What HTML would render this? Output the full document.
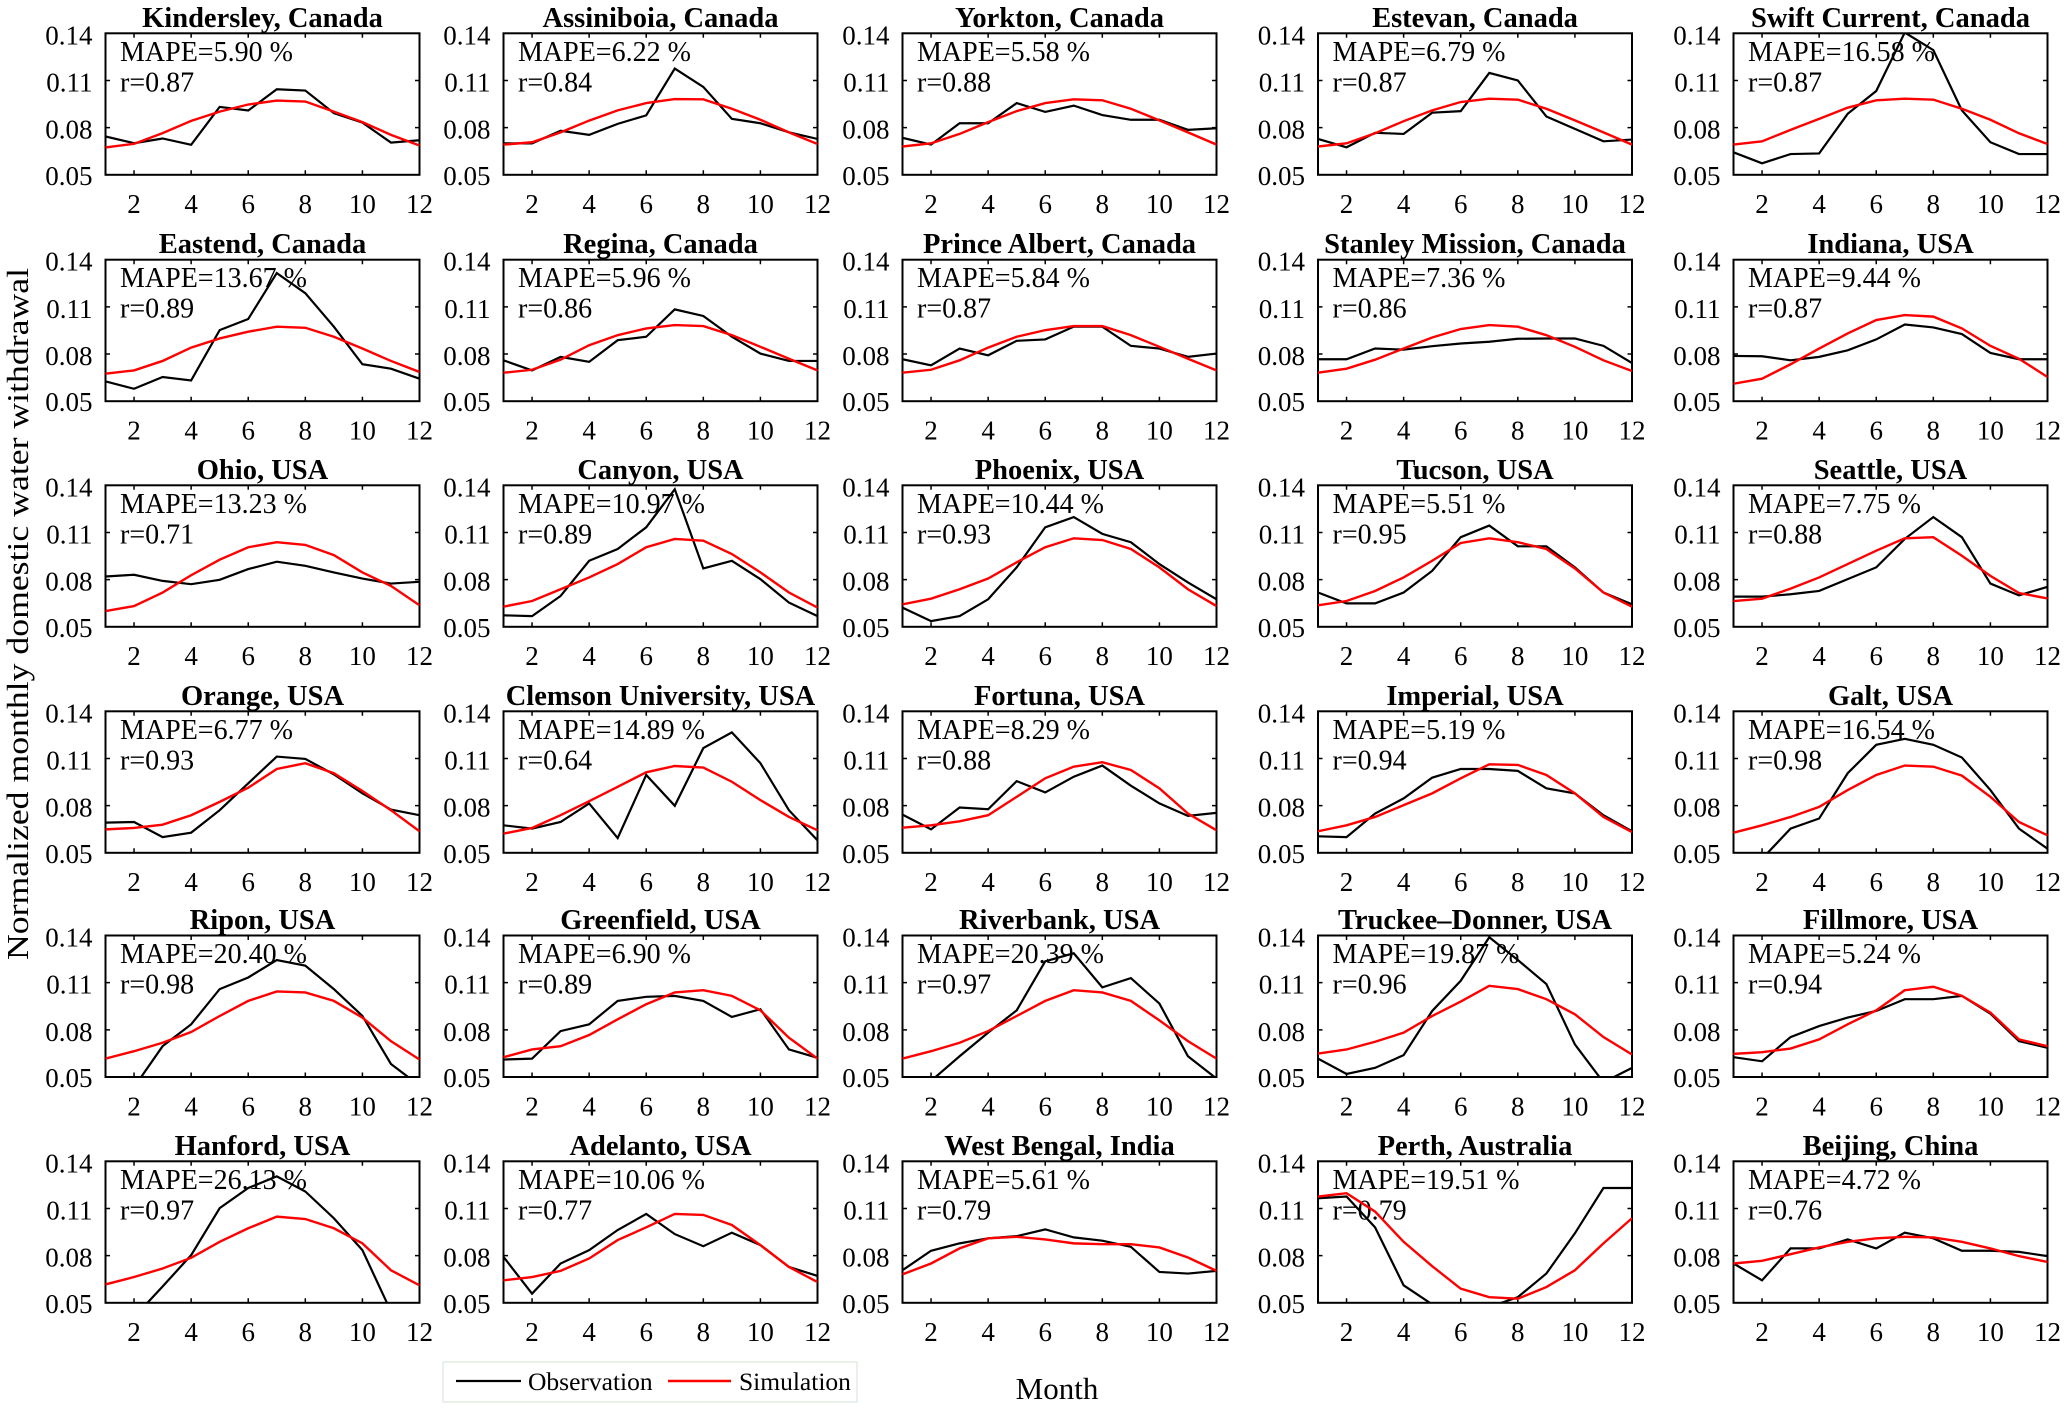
<!DOCTYPE html>
<html><head><meta charset="utf-8"><style>
html,body{margin:0;padding:0;background:#fff}
svg{display:block}
.ty text{font:27px "Liberation Serif",serif;text-anchor:end;fill:#000}
.tx text{font:27px "Liberation Serif",serif;text-anchor:middle;fill:#000}
.ti{font:bold 28.5px "Liberation Serif",serif;text-anchor:middle;fill:#000}
.tm{font:28px "Liberation Serif",serif;fill:#000}
.ob{fill:none;stroke:#000;stroke-width:2.2;vector-effect:non-scaling-stroke;stroke-linejoin:miter}
.sm{fill:none;stroke:#ff0000;stroke-width:2.4;vector-effect:non-scaling-stroke}
</style></head><body>
<svg width="2067" height="1411" viewBox="0 0 2067 1411" xmlns="http://www.w3.org/2000/svg">
<defs>
<clipPath id="cp" clipPathUnits="userSpaceOnUse"><rect x="1" y="0" width="11" height="90"/></clipPath>
<g id="fr">
<rect x="0" y="0" width="314" height="141.5" fill="none" stroke="#000" stroke-width="2"/>
<path d="M28.545,141.5v-4.5M85.64,141.5v-4.5M142.73,141.5v-4.5M199.82,141.5v-4.5M256.91,141.5v-4.5M28.545,0v4.5M85.64,0v4.5M142.73,0v4.5M199.82,0v4.5M256.91,0v4.5M0,47.17h4.5M0,94.33h4.5M314,47.17h-4.5M314,94.33h-4.5" stroke="#000" stroke-width="1.5" fill="none"/>
</g>
</defs>
<rect width="2067" height="1411" fill="#fff"/>

<!-- Row 0 -->
<g transform="translate(105.5,33.3)"><use href="#fr"/>
<g class="ty"><text x="-13" y="11">0.14</text><text x="-13" y="58.2">0.11</text><text x="-13" y="105.3">0.08</text><text x="-13" y="151.5">0.05</text></g>
<g class="tx"><text x="28.5" y="179.8">2</text><text x="85.6" y="179.8">4</text><text x="142.7" y="179.8">6</text><text x="199.8" y="179.8">8</text><text x="256.9" y="179.8">10</text><text x="314" y="179.8">12</text></g>
<text class="ti" x="157" y="-6.5">Kindersley, Canada</text>
<text class="tm" x="14.5" y="27.5">MAPE=5.90 %</text><text class="tm" x="14.5" y="58">r=0.87</text>
<g transform="translate(-28.545,141.5) scale(28.545,-1.5722)"><g clip-path="url(#cp)">
<polyline class="ob" points="1,24.4 2,20.1 3,23.1 4,19.1 5,43.2 6,40.9 7,54.4 8,53.6 9,39.2 10,33.2 11,20.5 12,22"/>
<polyline class="sm" points="1,17.4 2,19.7 3,26.5 4,34.3 5,40.2 6,44.7 7,47.2 8,46.6 9,40.2 10,33.5 11,25.4 12,18.6"/>
</g></g></g>

<g transform="translate(503.5,33.3)"><use href="#fr"/>
<g class="ty"><text x="-13" y="11">0.14</text><text x="-13" y="58.2">0.11</text><text x="-13" y="105.3">0.08</text><text x="-13" y="151.5">0.05</text></g>
<g class="tx"><text x="28.5" y="179.8">2</text><text x="85.6" y="179.8">4</text><text x="142.7" y="179.8">6</text><text x="199.8" y="179.8">8</text><text x="256.9" y="179.8">10</text><text x="314" y="179.8">12</text></g>
<text class="ti" x="157" y="-6.5">Assiniboia, Canada</text>
<text class="tm" x="14.5" y="27.5">MAPE=6.22 %</text><text class="tm" x="14.5" y="58">r=0.84</text>
<g transform="translate(-28.545,141.5) scale(28.545,-1.5722)"><g clip-path="url(#cp)">
<polyline class="ob" points="1,20 2,20 3,28 4,25.4 5,32.4 6,37.8 7,67.6 8,55.9 9,35.6 10,32.8 11,27 12,22.8"/>
<polyline class="sm" points="1,19.2 2,20.7 3,27 4,34.5 5,41 6,45.6 7,48.2 8,48 9,42 10,35 11,27 12,19.6"/>
</g></g></g>

<g transform="translate(902.5,33.3)"><use href="#fr"/>
<g class="ty"><text x="-13" y="11">0.14</text><text x="-13" y="58.2">0.11</text><text x="-13" y="105.3">0.08</text><text x="-13" y="151.5">0.05</text></g>
<g class="tx"><text x="28.5" y="179.8">2</text><text x="85.6" y="179.8">4</text><text x="142.7" y="179.8">6</text><text x="199.8" y="179.8">8</text><text x="256.9" y="179.8">10</text><text x="314" y="179.8">12</text></g>
<text class="ti" x="157" y="-6.5">Yorkton, Canada</text>
<text class="tm" x="14.5" y="27.5">MAPE=5.58 %</text><text class="tm" x="14.5" y="58">r=0.88</text>
<g transform="translate(-28.545,141.5) scale(28.545,-1.5722)"><g clip-path="url(#cp)">
<polyline class="ob" points="1,23.5 2,19.2 3,32.8 4,32.8 5,45.6 6,40 7,44 8,38 9,35 10,35 11,28.6 12,29.6"/>
<polyline class="sm" points="1,18 2,20 3,26 4,33.5 5,40.5 6,45.6 7,48 8,47.4 9,42 10,34.6 11,27 12,19.2"/>
</g></g></g>

<g transform="translate(1318,33.3)"><use href="#fr"/>
<g class="ty"><text x="-13" y="11">0.14</text><text x="-13" y="58.2">0.11</text><text x="-13" y="105.3">0.08</text><text x="-13" y="151.5">0.05</text></g>
<g class="tx"><text x="28.5" y="179.8">2</text><text x="85.6" y="179.8">4</text><text x="142.7" y="179.8">6</text><text x="199.8" y="179.8">8</text><text x="256.9" y="179.8">10</text><text x="314" y="179.8">12</text></g>
<text class="ti" x="157" y="-6.5">Estevan, Canada</text>
<text class="tm" x="14.5" y="27.5">MAPE=6.79 %</text><text class="tm" x="14.5" y="58">r=0.87</text>
<g transform="translate(-28.545,141.5) scale(28.545,-1.5722)"><g clip-path="url(#cp)">
<polyline class="ob" points="1,22.8 2,17.5 3,26.7 4,26 5,39.5 6,40.5 7,64.8 8,60 9,37.1 10,29.2 11,21.3 12,22.4"/>
<polyline class="sm" points="1,18 2,20 3,26.4 4,34.1 5,41 6,46.3 7,48.4 8,47.8 9,42 10,34.6 11,27 12,19.2"/>
</g></g></g>

<g transform="translate(1733.5,33.3)"><use href="#fr"/>
<g class="ty"><text x="-13" y="11">0.14</text><text x="-13" y="58.2">0.11</text><text x="-13" y="105.3">0.08</text><text x="-13" y="151.5">0.05</text></g>
<g class="tx"><text x="28.5" y="179.8">2</text><text x="85.6" y="179.8">4</text><text x="142.7" y="179.8">6</text><text x="199.8" y="179.8">8</text><text x="256.9" y="179.8">10</text><text x="314" y="179.8">12</text></g>
<text class="ti" x="157" y="-6.5">Swift Current, Canada</text>
<text class="tm" x="14.5" y="27.5">MAPE=16.58 %</text><text class="tm" x="14.5" y="58">r=0.87</text>
<g transform="translate(-28.545,141.5) scale(28.545,-1.5722)"><g clip-path="url(#cp)">
<polyline class="ob" points="1,14.3 2,7.3 3,13.2 4,13.6 5,38.8 6,53.3 7,90.5 8,79.3 9,41 10,20.7 11,13.2 12,13.2"/>
<polyline class="sm" points="1,19.2 2,21.3 3,28.6 4,35.6 5,42.7 6,47.4 7,48.4 8,47.8 9,42 10,35 11,26.4 12,19.6"/>
</g></g></g>

<!-- Row 1 -->
<g transform="translate(105.5,259.7)"><use href="#fr"/>
<g class="ty"><text x="-13" y="11">0.14</text><text x="-13" y="58.2">0.11</text><text x="-13" y="105.3">0.08</text><text x="-13" y="151.5">0.05</text></g>
<g class="tx"><text x="28.5" y="179.8">2</text><text x="85.6" y="179.8">4</text><text x="142.7" y="179.8">6</text><text x="199.8" y="179.8">8</text><text x="256.9" y="179.8">10</text><text x="314" y="179.8">12</text></g>
<text class="ti" x="157" y="-6.5">Eastend, Canada</text>
<text class="tm" x="14.5" y="27.5">MAPE=13.67 %</text><text class="tm" x="14.5" y="58">r=0.89</text>
<g transform="translate(-28.545,141.5) scale(28.545,-1.5722)"><g clip-path="url(#cp)">
<polyline class="ob" points="1,12.6 2,7.9 3,15.4 4,13.2 5,45.2 6,52.3 7,81.5 8,68.7 9,47.4 10,23.5 11,20.7 12,14.3"/>
<polyline class="sm" points="1,17.5 2,19.6 3,25.6 4,34.1 5,39.9 6,44.2 7,47.4 8,46.7 9,41 10,33.5 11,25.6 12,18.6"/>
</g></g></g>

<g transform="translate(503.5,259.7)"><use href="#fr"/>
<g class="ty"><text x="-13" y="11">0.14</text><text x="-13" y="58.2">0.11</text><text x="-13" y="105.3">0.08</text><text x="-13" y="151.5">0.05</text></g>
<g class="tx"><text x="28.5" y="179.8">2</text><text x="85.6" y="179.8">4</text><text x="142.7" y="179.8">6</text><text x="199.8" y="179.8">8</text><text x="256.9" y="179.8">10</text><text x="314" y="179.8">12</text></g>
<text class="ti" x="157" y="-6.5">Regina, Canada</text>
<text class="tm" x="14.5" y="27.5">MAPE=5.96 %</text><text class="tm" x="14.5" y="58">r=0.86</text>
<g transform="translate(-28.545,141.5) scale(28.545,-1.5722)"><g clip-path="url(#cp)">
<polyline class="ob" points="1,26 2,19.6 3,28.2 4,25 5,38.8 6,41 7,58.4 8,54.2 9,41 10,30.3 11,25.6 12,25.6"/>
<polyline class="sm" points="1,18.1 2,20 3,26.4 4,35.6 5,42 6,46.3 7,48.4 8,47.8 9,42 10,34.6 11,27 12,19.6"/>
</g></g></g>

<g transform="translate(902.5,259.7)"><use href="#fr"/>
<g class="ty"><text x="-13" y="11">0.14</text><text x="-13" y="58.2">0.11</text><text x="-13" y="105.3">0.08</text><text x="-13" y="151.5">0.05</text></g>
<g class="tx"><text x="28.5" y="179.8">2</text><text x="85.6" y="179.8">4</text><text x="142.7" y="179.8">6</text><text x="199.8" y="179.8">8</text><text x="256.9" y="179.8">10</text><text x="314" y="179.8">12</text></g>
<text class="ti" x="157" y="-6.5">Prince Albert, Canada</text>
<text class="tm" x="14.5" y="27.5">MAPE=5.84 %</text><text class="tm" x="14.5" y="58">r=0.87</text>
<g transform="translate(-28.545,141.5) scale(28.545,-1.5722)"><g clip-path="url(#cp)">
<polyline class="ob" points="1,26.7 2,22.8 3,33.5 4,29.2 5,38.4 6,39.3 7,47.4 8,47.4 9,35.2 10,33.5 11,28.2 12,30.3"/>
<polyline class="sm" points="1,18.1 2,20 3,26 4,34.1 5,41 6,45.2 7,47.8 8,47.8 9,42 10,34.6 11,27 12,19.6"/>
</g></g></g>

<g transform="translate(1318,259.7)"><use href="#fr"/>
<g class="ty"><text x="-13" y="11">0.14</text><text x="-13" y="58.2">0.11</text><text x="-13" y="105.3">0.08</text><text x="-13" y="151.5">0.05</text></g>
<g class="tx"><text x="28.5" y="179.8">2</text><text x="85.6" y="179.8">4</text><text x="142.7" y="179.8">6</text><text x="199.8" y="179.8">8</text><text x="256.9" y="179.8">10</text><text x="314" y="179.8">12</text></g>
<text class="ti" x="157" y="-6.5">Stanley Mission, Canada</text>
<text class="tm" x="14.5" y="27.5">MAPE=7.36 %</text><text class="tm" x="14.5" y="58">r=0.86</text>
<g transform="translate(-28.545,141.5) scale(28.545,-1.5722)"><g clip-path="url(#cp)">
<polyline class="ob" points="1,26.7 2,26.7 3,33.5 4,32.8 5,35 6,36.7 7,37.8 8,39.7 9,39.9 10,39.9 11,35.2 12,24.3"/>
<polyline class="sm" points="1,18.1 2,20.7 3,26.4 4,33.5 5,40.5 6,45.9 7,48.4 8,47.4 9,42 10,34.6 11,26 12,19.2"/>
</g></g></g>

<g transform="translate(1733.5,259.7)"><use href="#fr"/>
<g class="ty"><text x="-13" y="11">0.14</text><text x="-13" y="58.2">0.11</text><text x="-13" y="105.3">0.08</text><text x="-13" y="151.5">0.05</text></g>
<g class="tx"><text x="28.5" y="179.8">2</text><text x="85.6" y="179.8">4</text><text x="142.7" y="179.8">6</text><text x="199.8" y="179.8">8</text><text x="256.9" y="179.8">10</text><text x="314" y="179.8">12</text></g>
<text class="ti" x="157" y="-6.5">Indiana, USA</text>
<text class="tm" x="14.5" y="27.5">MAPE=9.44 %</text><text class="tm" x="14.5" y="58">r=0.87</text>
<g transform="translate(-28.545,141.5) scale(28.545,-1.5722)"><g clip-path="url(#cp)">
<polyline class="ob" points="1,28.8 2,28.6 3,26 4,28.2 5,32.4 6,39.3 7,48.8 8,46.9 9,42.7 10,30.7 11,26.7 12,26.7"/>
<polyline class="sm" points="1,11.1 2,14.3 3,23.5 4,33.5 5,43.1 6,51.6 7,54.8 8,53.8 9,46.3 10,35.2 11,27 12,15.4"/>
</g></g></g>

<!-- Row 2 -->
<g transform="translate(105.5,485.3)"><use href="#fr"/>
<g class="ty"><text x="-13" y="11">0.14</text><text x="-13" y="58.2">0.11</text><text x="-13" y="105.3">0.08</text><text x="-13" y="151.5">0.05</text></g>
<g class="tx"><text x="28.5" y="179.8">2</text><text x="85.6" y="179.8">4</text><text x="142.7" y="179.8">6</text><text x="199.8" y="179.8">8</text><text x="256.9" y="179.8">10</text><text x="314" y="179.8">12</text></g>
<text class="ti" x="157" y="-6.5">Ohio, USA</text>
<text class="tm" x="14.5" y="27.5">MAPE=13.23 %</text><text class="tm" x="14.5" y="58">r=0.71</text>
<g transform="translate(-28.545,141.5) scale(28.545,-1.5722)"><g clip-path="url(#cp)">
<polyline class="ob" points="1,32 2,33.1 3,29.2 4,27.1 5,29.9 6,36.7 7,41.4 8,38.8 9,34.6 10,30.7 11,27.5 12,28.6"/>
<polyline class="sm" points="1,10 2,13.2 3,21.8 4,32.8 5,42.7 6,50.6 7,53.8 8,52.1 9,45.6 10,34.6 11,26 12,13.7"/>
</g></g></g>

<g transform="translate(503.5,485.3)"><use href="#fr"/>
<g class="ty"><text x="-13" y="11">0.14</text><text x="-13" y="58.2">0.11</text><text x="-13" y="105.3">0.08</text><text x="-13" y="151.5">0.05</text></g>
<g class="tx"><text x="28.5" y="179.8">2</text><text x="85.6" y="179.8">4</text><text x="142.7" y="179.8">6</text><text x="199.8" y="179.8">8</text><text x="256.9" y="179.8">10</text><text x="314" y="179.8">12</text></g>
<text class="ti" x="157" y="-6.5">Canyon, USA</text>
<text class="tm" x="14.5" y="27.5">MAPE=10.97 %</text><text class="tm" x="14.5" y="58">r=0.89</text>
<g transform="translate(-28.545,141.5) scale(28.545,-1.5722)"><g clip-path="url(#cp)">
<polyline class="ob" points="1,7.3 2,6.8 3,19.6 4,42 5,49.5 6,63.3 7,87.5 8,37.1 9,42 10,30.3 11,15.4 12,6.8"/>
<polyline class="sm" points="1,12.8 2,16.4 3,23.9 4,31.4 5,39.9 6,50.6 7,55.9 8,54.8 9,46.3 10,34.6 11,21.8 12,12.2"/>
</g></g></g>

<g transform="translate(902.5,485.3)"><use href="#fr"/>
<g class="ty"><text x="-13" y="11">0.14</text><text x="-13" y="58.2">0.11</text><text x="-13" y="105.3">0.08</text><text x="-13" y="151.5">0.05</text></g>
<g class="tx"><text x="28.5" y="179.8">2</text><text x="85.6" y="179.8">4</text><text x="142.7" y="179.8">6</text><text x="199.8" y="179.8">8</text><text x="256.9" y="179.8">10</text><text x="314" y="179.8">12</text></g>
<text class="ti" x="157" y="-6.5">Phoenix, USA</text>
<text class="tm" x="14.5" y="27.5">MAPE=10.44 %</text><text class="tm" x="14.5" y="58">r=0.93</text>
<g transform="translate(-28.545,141.5) scale(28.545,-1.5722)"><g clip-path="url(#cp)">
<polyline class="ob" points="1,12.2 2,3.6 3,6.8 4,17.5 5,37.8 6,63.3 7,69.8 8,59.1 9,53.8 10,39.9 11,28.2 12,17.5"/>
<polyline class="sm" points="1,14.3 2,17.9 3,23.9 4,30.7 5,41 6,50.6 7,56.3 8,55.2 9,49.5 10,37.8 11,23.9 12,13.2"/>
</g></g></g>

<g transform="translate(1318,485.3)"><use href="#fr"/>
<g class="ty"><text x="-13" y="11">0.14</text><text x="-13" y="58.2">0.11</text><text x="-13" y="105.3">0.08</text><text x="-13" y="151.5">0.05</text></g>
<g class="tx"><text x="28.5" y="179.8">2</text><text x="85.6" y="179.8">4</text><text x="142.7" y="179.8">6</text><text x="199.8" y="179.8">8</text><text x="256.9" y="179.8">10</text><text x="314" y="179.8">12</text></g>
<text class="ti" x="157" y="-6.5">Tucson, USA</text>
<text class="tm" x="14.5" y="27.5">MAPE=5.51 %</text><text class="tm" x="14.5" y="58">r=0.95</text>
<g transform="translate(-28.545,141.5) scale(28.545,-1.5722)"><g clip-path="url(#cp)">
<polyline class="ob" points="1,21.8 2,14.9 3,14.9 4,21.8 5,35.6 6,57 7,64.4 8,51.2 9,51.2 10,37.8 11,21.8 12,14.3"/>
<polyline class="sm" points="1,13.7 2,16.4 3,22.8 4,31.4 5,42 6,53.3 7,56.3 8,53.8 9,49.5 10,37.1 11,21.8 12,12.8"/>
</g></g></g>

<g transform="translate(1733.5,485.3)"><use href="#fr"/>
<g class="ty"><text x="-13" y="11">0.14</text><text x="-13" y="58.2">0.11</text><text x="-13" y="105.3">0.08</text><text x="-13" y="151.5">0.05</text></g>
<g class="tx"><text x="28.5" y="179.8">2</text><text x="85.6" y="179.8">4</text><text x="142.7" y="179.8">6</text><text x="199.8" y="179.8">8</text><text x="256.9" y="179.8">10</text><text x="314" y="179.8">12</text></g>
<text class="ti" x="157" y="-6.5">Seattle, USA</text>
<text class="tm" x="14.5" y="27.5">MAPE=7.75 %</text><text class="tm" x="14.5" y="58">r=0.88</text>
<g transform="translate(-28.545,141.5) scale(28.545,-1.5722)"><g clip-path="url(#cp)">
<polyline class="ob" points="1,19.2 2,19.2 3,20.7 4,22.8 5,30.3 6,37.8 7,55.9 8,69.8 9,57 10,27.5 11,20 12,25.4"/>
<polyline class="sm" points="1,16.4 2,17.9 3,24.3 4,31.4 5,39.9 6,48.4 7,56.3 8,57 9,45.2 10,32.4 11,21.5 12,18"/>
</g></g></g>

<!-- Row 3 -->
<g transform="translate(105.5,711.3)"><use href="#fr"/>
<g class="ty"><text x="-13" y="11">0.14</text><text x="-13" y="58.2">0.11</text><text x="-13" y="105.3">0.08</text><text x="-13" y="151.5">0.05</text></g>
<g class="tx"><text x="28.5" y="179.8">2</text><text x="85.6" y="179.8">4</text><text x="142.7" y="179.8">6</text><text x="199.8" y="179.8">8</text><text x="256.9" y="179.8">10</text><text x="314" y="179.8">12</text></g>
<text class="ti" x="157" y="-6.5">Orange, USA</text>
<text class="tm" x="14.5" y="27.5">MAPE=6.77 %</text><text class="tm" x="14.5" y="58">r=0.93</text>
<g transform="translate(-28.545,141.5) scale(28.545,-1.5722)"><g clip-path="url(#cp)">
<polyline class="ob" points="1,19.2 2,19.6 3,10 4,12.8 5,27.1 6,44.2 7,61.2 8,59.7 9,49.9 10,37.8 11,27.5 12,23.9"/>
<polyline class="sm" points="1,14.9 2,15.8 3,17.9 4,23.9 5,32.4 6,41.4 7,53.3 8,57 9,50.6 10,39.3 11,27.1 12,13.7"/>
</g></g></g>

<g transform="translate(503.5,711.3)"><use href="#fr"/>
<g class="ty"><text x="-13" y="11">0.14</text><text x="-13" y="58.2">0.11</text><text x="-13" y="105.3">0.08</text><text x="-13" y="151.5">0.05</text></g>
<g class="tx"><text x="28.5" y="179.8">2</text><text x="85.6" y="179.8">4</text><text x="142.7" y="179.8">6</text><text x="199.8" y="179.8">8</text><text x="256.9" y="179.8">10</text><text x="314" y="179.8">12</text></g>
<text class="ti" x="157" y="-6.5">Clemson University, USA</text>
<text class="tm" x="14.5" y="27.5">MAPE=14.89 %</text><text class="tm" x="14.5" y="58">r=0.64</text>
<g transform="translate(-28.545,141.5) scale(28.545,-1.5722)"><g clip-path="url(#cp)">
<polyline class="ob" points="1,17.5 2,15.4 3,19.6 4,31.4 5,9.4 6,49.5 7,29.9 8,66.6 9,76.6 10,57 11,27.1 12,7.9"/>
<polyline class="sm" points="1,12.2 2,15.8 3,23.9 4,32.8 5,42 6,51.2 7,55.2 8,54.2 9,45.2 10,33.5 11,22.8 12,14.3"/>
</g></g></g>

<g transform="translate(902.5,711.3)"><use href="#fr"/>
<g class="ty"><text x="-13" y="11">0.14</text><text x="-13" y="58.2">0.11</text><text x="-13" y="105.3">0.08</text><text x="-13" y="151.5">0.05</text></g>
<g class="tx"><text x="28.5" y="179.8">2</text><text x="85.6" y="179.8">4</text><text x="142.7" y="179.8">6</text><text x="199.8" y="179.8">8</text><text x="256.9" y="179.8">10</text><text x="314" y="179.8">12</text></g>
<text class="ti" x="157" y="-6.5">Fortuna, USA</text>
<text class="tm" x="14.5" y="27.5">MAPE=8.29 %</text><text class="tm" x="14.5" y="58">r=0.88</text>
<g transform="translate(-28.545,141.5) scale(28.545,-1.5722)"><g clip-path="url(#cp)">
<polyline class="ob" points="1,24.3 2,14.9 3,28.8 4,27.7 5,45.6 6,38.4 7,48.4 8,55.5 9,42.7 10,31.4 11,23.5 12,25.4"/>
<polyline class="sm" points="1,16 2,17.5 3,20 4,23.9 5,35.6 6,47.4 7,54.8 8,57.6 9,52.7 10,41 11,25 12,14.3"/>
</g></g></g>

<g transform="translate(1318,711.3)"><use href="#fr"/>
<g class="ty"><text x="-13" y="11">0.14</text><text x="-13" y="58.2">0.11</text><text x="-13" y="105.3">0.08</text><text x="-13" y="151.5">0.05</text></g>
<g class="tx"><text x="28.5" y="179.8">2</text><text x="85.6" y="179.8">4</text><text x="142.7" y="179.8">6</text><text x="199.8" y="179.8">8</text><text x="256.9" y="179.8">10</text><text x="314" y="179.8">12</text></g>
<text class="ti" x="157" y="-6.5">Imperial, USA</text>
<text class="tm" x="14.5" y="27.5">MAPE=5.19 %</text><text class="tm" x="14.5" y="58">r=0.94</text>
<g transform="translate(-28.545,141.5) scale(28.545,-1.5722)"><g clip-path="url(#cp)">
<polyline class="ob" points="1,10.5 2,10 3,25 4,34.6 5,47.8 6,53.3 7,53.3 8,52.1 9,41 10,37.8 11,23.9 12,13.7"/>
<polyline class="sm" points="1,13.7 2,17.5 3,22.8 4,30.3 5,37.8 6,47.4 7,56.3 8,55.9 9,49.5 10,37.8 11,22.8 12,13.2"/>
</g></g></g>

<g transform="translate(1733.5,711.3)"><use href="#fr"/>
<g class="ty"><text x="-13" y="11">0.14</text><text x="-13" y="58.2">0.11</text><text x="-13" y="105.3">0.08</text><text x="-13" y="151.5">0.05</text></g>
<g class="tx"><text x="28.5" y="179.8">2</text><text x="85.6" y="179.8">4</text><text x="142.7" y="179.8">6</text><text x="199.8" y="179.8">8</text><text x="256.9" y="179.8">10</text><text x="314" y="179.8">12</text></g>
<text class="ti" x="157" y="-6.5">Galt, USA</text>
<text class="tm" x="14.5" y="27.5">MAPE=16.54 %</text><text class="tm" x="14.5" y="58">r=0.98</text>
<g transform="translate(-28.545,141.5) scale(28.545,-1.5722)"><g clip-path="url(#cp)">
<polyline class="ob" points="1,-10 2,-3.8 3,15.4 4,21.8 5,50.6 6,68.7 7,72.5 8,68.7 9,60.6 10,39.9 11,15.4 12,2.6"/>
<polyline class="sm" points="1,12.8 2,17.5 3,22.8 4,29.2 5,39.9 6,49.5 7,55.5 8,54.8 9,49.1 10,35.6 11,19.6 12,11.1"/>
</g></g></g>

<!-- Row 4 -->
<g transform="translate(105.5,935.5)"><use href="#fr"/>
<g class="ty"><text x="-13" y="11">0.14</text><text x="-13" y="58.2">0.11</text><text x="-13" y="105.3">0.08</text><text x="-13" y="151.5">0.05</text></g>
<g class="tx"><text x="28.5" y="179.8">2</text><text x="85.6" y="179.8">4</text><text x="142.7" y="179.8">6</text><text x="199.8" y="179.8">8</text><text x="256.9" y="179.8">10</text><text x="314" y="179.8">12</text></g>
<text class="ti" x="157" y="-6.5">Ripon, USA</text>
<text class="tm" x="14.5" y="27.5">MAPE=20.40 %</text><text class="tm" x="14.5" y="58">r=0.98</text>
<g transform="translate(-28.545,141.5) scale(28.545,-1.5722)"><g clip-path="url(#cp)">
<polyline class="ob" points="1,-15 2,-6.5 3,19.6 4,33.5 5,55.9 6,63.3 7,74.4 8,70.8 9,55.9 10,38.8 11,8.3 12,-5.5"/>
<polyline class="sm" points="1,11.7 2,16.4 3,21.8 4,28.6 5,38.8 6,48.4 7,54.4 8,53.8 9,48.4 10,37.8 11,22.8 12,11.1"/>
</g></g></g>

<g transform="translate(503.5,935.5)"><use href="#fr"/>
<g class="ty"><text x="-13" y="11">0.14</text><text x="-13" y="58.2">0.11</text><text x="-13" y="105.3">0.08</text><text x="-13" y="151.5">0.05</text></g>
<g class="tx"><text x="28.5" y="179.8">2</text><text x="85.6" y="179.8">4</text><text x="142.7" y="179.8">6</text><text x="199.8" y="179.8">8</text><text x="256.9" y="179.8">10</text><text x="314" y="179.8">12</text></g>
<text class="ti" x="157" y="-6.5">Greenfield, USA</text>
<text class="tm" x="14.5" y="27.5">MAPE=6.90 %</text><text class="tm" x="14.5" y="58">r=0.89</text>
<g transform="translate(-28.545,141.5) scale(28.545,-1.5722)"><g clip-path="url(#cp)">
<polyline class="ob" points="1,11.1 2,11.7 3,29.2 4,33.5 5,48.4 6,51 7,51.6 8,48.4 9,38.2 10,43.1 11,17.5 12,12.2"/>
<polyline class="sm" points="1,12.6 2,17.5 3,19.6 4,26.7 5,36.7 6,46.3 7,53.8 8,55.2 9,51.6 10,42.4 11,25 12,11.7"/>
</g></g></g>

<g transform="translate(902.5,935.5)"><use href="#fr"/>
<g class="ty"><text x="-13" y="11">0.14</text><text x="-13" y="58.2">0.11</text><text x="-13" y="105.3">0.08</text><text x="-13" y="151.5">0.05</text></g>
<g class="tx"><text x="28.5" y="179.8">2</text><text x="85.6" y="179.8">4</text><text x="142.7" y="179.8">6</text><text x="199.8" y="179.8">8</text><text x="256.9" y="179.8">10</text><text x="314" y="179.8">12</text></g>
<text class="ti" x="157" y="-6.5">Riverbank, USA</text>
<text class="tm" x="14.5" y="27.5">MAPE=20.39 %</text><text class="tm" x="14.5" y="58">r=0.97</text>
<g transform="translate(-28.545,141.5) scale(28.545,-1.5722)"><g clip-path="url(#cp)">
<polyline class="ob" points="1,-15 2,-2.5 3,13.2 4,28.2 5,42.4 6,73.6 7,78.7 8,57 9,62.9 10,46.7 11,13.2 12,-1"/>
<polyline class="sm" points="1,11.7 2,16.4 3,21.8 4,29.2 5,38.8 6,48.4 7,55.2 8,53.8 9,48.4 10,36 11,22.8 12,11.7"/>
</g></g></g>

<g transform="translate(1318,935.5)"><use href="#fr"/>
<g class="ty"><text x="-13" y="11">0.14</text><text x="-13" y="58.2">0.11</text><text x="-13" y="105.3">0.08</text><text x="-13" y="151.5">0.05</text></g>
<g class="tx"><text x="28.5" y="179.8">2</text><text x="85.6" y="179.8">4</text><text x="142.7" y="179.8">6</text><text x="199.8" y="179.8">8</text><text x="256.9" y="179.8">10</text><text x="314" y="179.8">12</text></g>
<text class="ti" x="157" y="-6.5">Truckee–Donner, USA</text>
<text class="tm" x="14.5" y="27.5">MAPE=19.87 %</text><text class="tm" x="14.5" y="58">r=0.96</text>
<g transform="translate(-28.545,141.5) scale(28.545,-1.5722)"><g clip-path="url(#cp)">
<polyline class="ob" points="1,11.7 2,1.9 3,5.8 4,13.9 5,42 6,61.2 7,88.9 8,74.4 9,59.1 10,20.7 11,-3.4 12,5.8"/>
<polyline class="sm" points="1,14.9 2,17.5 3,22.4 4,28.2 5,38.8 6,48 7,58 8,55.9 9,49.5 10,39.9 11,25.4 12,14.3"/>
</g></g></g>

<g transform="translate(1733.5,935.5)"><use href="#fr"/>
<g class="ty"><text x="-13" y="11">0.14</text><text x="-13" y="58.2">0.11</text><text x="-13" y="105.3">0.08</text><text x="-13" y="151.5">0.05</text></g>
<g class="tx"><text x="28.5" y="179.8">2</text><text x="85.6" y="179.8">4</text><text x="142.7" y="179.8">6</text><text x="199.8" y="179.8">8</text><text x="256.9" y="179.8">10</text><text x="314" y="179.8">12</text></g>
<text class="ti" x="157" y="-6.5">Fillmore, USA</text>
<text class="tm" x="14.5" y="27.5">MAPE=5.24 %</text><text class="tm" x="14.5" y="58">r=0.94</text>
<g transform="translate(-28.545,141.5) scale(28.545,-1.5722)"><g clip-path="url(#cp)">
<polyline class="ob" points="1,12.6 2,10 3,25.4 4,32.4 5,37.8 6,42 7,49.5 8,49.5 9,51.6 10,40.3 11,22.8 12,18.6"/>
<polyline class="sm" points="1,14.7 2,15.8 3,18.1 4,23.9 5,33.5 6,42.4 7,55.2 8,57.4 9,51.6 10,41 11,23.9 12,19.6"/>
</g></g></g>

<!-- Row 5 -->
<g transform="translate(105.5,1161.3)"><use href="#fr"/>
<g class="ty"><text x="-13" y="11">0.14</text><text x="-13" y="58.2">0.11</text><text x="-13" y="105.3">0.08</text><text x="-13" y="151.5">0.05</text></g>
<g class="tx"><text x="28.5" y="179.8">2</text><text x="85.6" y="179.8">4</text><text x="142.7" y="179.8">6</text><text x="199.8" y="179.8">8</text><text x="256.9" y="179.8">10</text><text x="314" y="179.8">12</text></g>
<text class="ti" x="157" y="-6.5">Hanford, USA</text>
<text class="tm" x="14.5" y="27.5">MAPE=26.13 %</text><text class="tm" x="14.5" y="58">r=0.97</text>
<g transform="translate(-28.545,141.5) scale(28.545,-1.5722)"><g clip-path="url(#cp)">
<polyline class="ob" points="1,-20 2,-9.2 3,10.4 4,30.3 5,60.2 6,73 7,80.4 8,70.8 9,53.8 10,33.5 11,-5.5 12,-15"/>
<polyline class="sm" points="1,11.7 2,16.4 3,21.8 4,28.6 5,38.8 6,47.4 7,54.8 8,53.3 9,47.4 10,37.8 11,20.7 12,11.1"/>
</g></g></g>

<g transform="translate(503.5,1161.3)"><use href="#fr"/>
<g class="ty"><text x="-13" y="11">0.14</text><text x="-13" y="58.2">0.11</text><text x="-13" y="105.3">0.08</text><text x="-13" y="151.5">0.05</text></g>
<g class="tx"><text x="28.5" y="179.8">2</text><text x="85.6" y="179.8">4</text><text x="142.7" y="179.8">6</text><text x="199.8" y="179.8">8</text><text x="256.9" y="179.8">10</text><text x="314" y="179.8">12</text></g>
<text class="ti" x="157" y="-6.5">Adelanto, USA</text>
<text class="tm" x="14.5" y="27.5">MAPE=10.06 %</text><text class="tm" x="14.5" y="58">r=0.77</text>
<g transform="translate(-28.545,141.5) scale(28.545,-1.5722)"><g clip-path="url(#cp)">
<polyline class="ob" points="1,29.2 2,5.8 3,25 4,33.5 5,46.3 6,56.5 7,43.7 8,36 9,44.6 10,36.7 11,22.8 12,17.1"/>
<polyline class="sm" points="1,14.3 2,16.4 3,20.3 4,28.2 5,39.9 6,48 7,56.5 8,55.9 9,49.5 10,36.7 11,22.8 12,13.2"/>
</g></g></g>

<g transform="translate(902.5,1161.3)"><use href="#fr"/>
<g class="ty"><text x="-13" y="11">0.14</text><text x="-13" y="58.2">0.11</text><text x="-13" y="105.3">0.08</text><text x="-13" y="151.5">0.05</text></g>
<g class="tx"><text x="28.5" y="179.8">2</text><text x="85.6" y="179.8">4</text><text x="142.7" y="179.8">6</text><text x="199.8" y="179.8">8</text><text x="256.9" y="179.8">10</text><text x="314" y="179.8">12</text></g>
<text class="ti" x="157" y="-6.5">West Bengal, India</text>
<text class="tm" x="14.5" y="27.5">MAPE=5.61 %</text><text class="tm" x="14.5" y="58">r=0.79</text>
<g transform="translate(-28.545,141.5) scale(28.545,-1.5722)"><g clip-path="url(#cp)">
<polyline class="ob" points="1,20.7 2,33.1 3,37.8 4,41 5,42.4 6,46.7 7,41.6 8,39.5 9,35.6 10,19.6 11,18.6 12,20.3"/>
<polyline class="sm" points="1,18.1 2,25 3,34.6 4,41 5,42 6,40.3 7,37.8 8,37.3 9,37.3 10,35.2 11,28.8 12,20.3"/>
</g></g></g>

<g transform="translate(1318,1161.3)"><use href="#fr"/>
<g class="ty"><text x="-13" y="11">0.14</text><text x="-13" y="58.2">0.11</text><text x="-13" y="105.3">0.08</text><text x="-13" y="151.5">0.05</text></g>
<g class="tx"><text x="28.5" y="179.8">2</text><text x="85.6" y="179.8">4</text><text x="142.7" y="179.8">6</text><text x="199.8" y="179.8">8</text><text x="256.9" y="179.8">10</text><text x="314" y="179.8">12</text></g>
<text class="ti" x="157" y="-6.5">Perth, Australia</text>
<text class="tm" x="14.5" y="27.5">MAPE=19.51 %</text><text class="tm" x="14.5" y="58">r=0.79</text>
<g transform="translate(-28.545,141.5) scale(28.545,-1.5722)"><g clip-path="url(#cp)">
<polyline class="ob" points="1,66.5 2,67.6 3,48 4,11.1 5,-1 6,-6 7,-2.7 8,3.6 9,18.6 10,44.2 11,73 12,73"/>
<polyline class="sm" points="1,67.6 2,69.7 3,58 4,38.8 5,23.3 6,9 7,3.6 8,2.6 9,10 10,20.7 11,37.8 12,53.8"/>
</g></g></g>

<g transform="translate(1733.5,1161.3)"><use href="#fr"/>
<g class="ty"><text x="-13" y="11">0.14</text><text x="-13" y="58.2">0.11</text><text x="-13" y="105.3">0.08</text><text x="-13" y="151.5">0.05</text></g>
<g class="tx"><text x="28.5" y="179.8">2</text><text x="85.6" y="179.8">4</text><text x="142.7" y="179.8">6</text><text x="199.8" y="179.8">8</text><text x="256.9" y="179.8">10</text><text x="314" y="179.8">12</text></g>
<text class="ti" x="157" y="-6.5">Beijing, China</text>
<text class="tm" x="14.5" y="27.5">MAPE=4.72 %</text><text class="tm" x="14.5" y="58">r=0.76</text>
<g transform="translate(-28.545,141.5) scale(28.545,-1.5722)"><g clip-path="url(#cp)">
<polyline class="ob" points="1,25 2,14.3 3,34.6 4,34.6 5,40.3 6,34.6 7,44.6 8,41 9,33.1 10,33.1 11,32.4 12,29.7"/>
<polyline class="sm" points="1,25 2,26.7 3,30.9 4,35.2 5,38.8 6,41 7,42 8,41.6 9,38.8 10,34.6 11,29.7 12,26"/>
</g></g></g>

<!-- Y label -->
<text transform="translate(28,614) rotate(-90)" text-anchor="middle" font-family="Liberation Serif, serif" font-size="31" textLength="692" lengthAdjust="spacingAndGlyphs" fill="#000">Normalized monthly domestic water withdrawal</text>

<!-- Legend -->
<rect x="443" y="1362" width="414" height="40" fill="#fff" stroke="#dde5dd" stroke-width="1.2"/>
<line x1="456" y1="1381" x2="521" y2="1381" stroke="#000" stroke-width="2.2"/>
<text x="528" y="1390" font-family="Liberation Serif, serif" font-size="25.5" fill="#000">Observation</text>
<line x1="668" y1="1381" x2="731" y2="1381" stroke="#ff0000" stroke-width="2.4"/>
<text x="739" y="1390" font-family="Liberation Serif, serif" font-size="25.5" fill="#000">Simulation</text>

<!-- X label -->
<text x="1057" y="1399" text-anchor="middle" font-family="Liberation Serif, serif" font-size="31" fill="#000">Month</text>
</svg>
</body></html>
